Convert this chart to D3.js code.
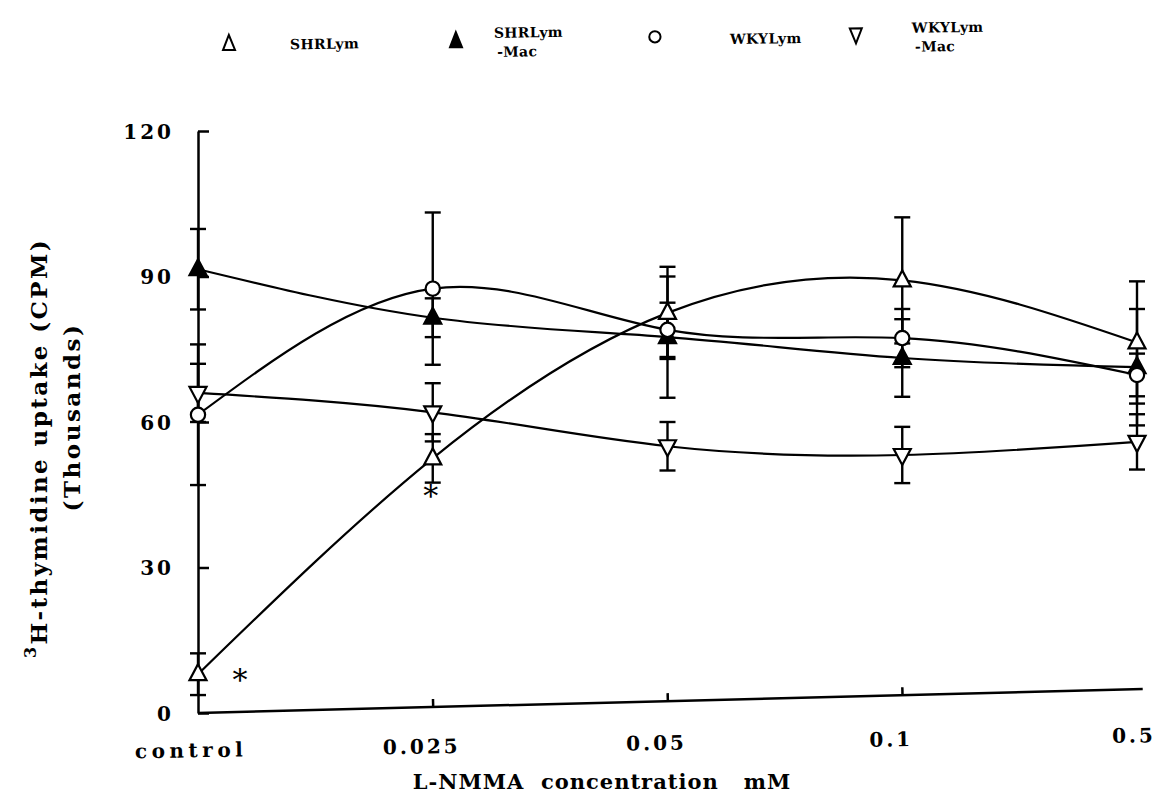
<!DOCTYPE html>
<html>
<head>
<meta charset="utf-8">
<script src="https://cdn.jsdelivr.net/npm/d3@7"></script>
<style>
  body { margin: 0; background: #fff; }
  svg { font-family: "DejaVu Serif", "Liberation Serif", serif; font-weight: bold; }
  .axis path, .axis line { stroke: #000; stroke-width: 2.5; }
  .axis text { font-family: "DejaVu Serif", "Liberation Serif", serif; font-size: 20px; letter-spacing: 3px; fill: #000; }
</style>
</head>
<body>
<svg id="chart" width="1167" height="799"></svg>
<script>
"use strict";

const categories = ["control", "0.025", "0.05", "0.1", "0.5"];
const yTicks = [0, 30, 60, 90, 120];

// means and error bars, thousands of CPM
const shrLym = [8, 52.5, 82.5, 89.2, 76.4];
const shrLymErr = [4.3, 5, 9.5, 13, 12.6];
const shrLymMac = [91.5, 81.5, 77.5, 73.2, 71.3];
const shrLymMacErr = [8.3, 4, 12.5, 8, 12];
const wkyLym = [61.5, 87.5, 79, 77.3, 69.7];
const wkyLymErr = [14.5, 15.7, 5.6, 6, 4.4];
const wkyLymMac = [66, 62, 55, 53.2, 55.9];
const wkyLymMacErr = [6, 6, 5, 5.8, 5.7];

const seriesNames = [["SHRLym"], ["SHRLym", "-Mac"], ["WKYLym"], ["WKYLym", "-Mac"]];

const svg = d3.select("#chart");

const x = d3.scalePoint().domain(categories).range([198, 1137]);
const y = d3.scaleLinear().domain([0, 120]).range([713, 131]);

const series = [
    {name: seriesNames[0], values: shrLym, err: shrLymErr, shape: "up", fill: "#fff"},
    {name: seriesNames[1], values: shrLymMac, err: shrLymMacErr, shape: "up", fill: "#000"},
    {name: seriesNames[2], values: wkyLym, err: wkyLymErr, shape: "circle", fill: "#fff"},
    {name: seriesNames[3], values: wkyLymMac, err: wkyLymMacErr, shape: "down", fill: "#fff"}
];

function symbolPath(shape) {
    if (shape === "circle") return d3.symbol(d3.symbolCircle, 160)();
    if (shape === "up") return "M0,-10L8.5,6L-8.5,6Z";
    return "M0,10L8.5,-6L-8.5,-6Z";
}

// x axis line and ticks, tilted as in the scan
const xAxis = svg.append("g")
    .attr("class", "axis axis-x")
    .attr("transform", `rotate(-1.45, ${x("control")}, ${y(0)}) translate(0,${y(0)})`)
    .call(d3.axisBottom(x).tickSizeInner(-8).tickSizeOuter(0).tickFormat(""));
xAxis.select(".domain").attr("d", `M${x("control")},0H${x("0.5") + 6}`);
xAxis.selectAll(".tick line")
    .attr("stroke-width", 2)
    .attr("opacity", d => (d === "control" || d === "0.5") ? 0 : 1);

// x tick labels, tilted a little less
const xLabels = svg.append("g")
    .attr("class", "axis axis-x-labels")
    .attr("transform", `rotate(-0.9, ${x("control")}, ${y(0)}) translate(0,${y(0)})`)
    .call(d3.axisBottom(x).tickSize(0).tickPadding(30));
xLabels.select(".domain").remove();
xLabels.selectAll(".tick text")
    .attr("dx", d => d === "0.5" ? -4 : (d === "control" ? -8 : -12))
    .style("letter-spacing", d => d === "control" ? "4.5px" : null);

// y axis
const yAxis = svg.append("g")
    .attr("class", "axis axis-y")
    .attr("transform", `translate(${x("control")},0)`)
    .call(d3.axisLeft(y).tickValues(yTicks).tickSizeInner(-11).tickSizeOuter(0).tickPadding(24));
yAxis.selectAll(".tick text").attr("dy", "0.35em");

// curves
const line = d3.line()
    .x((d, i) => x(categories[i]))
    .y(d => y(d))
    .curve(d3.curveNatural);

svg.append("g").selectAll("path")
    .data(series)
    .enter().append("path")
    .attr("d", d => line(d.values))
    .attr("fill", "none")
    .attr("stroke", "#000")
    .attr("stroke-width", 2.2);

// error bars
const bars = svg.append("g").attr("stroke", "#000").attr("stroke-width", 2.4);
series.forEach(s => {
    s.values.forEach((v, i) => {
        const cx = x(categories[i]);
        const g = bars.append("g");
        g.append("line").attr("x1", cx).attr("x2", cx).attr("y1", y(v - s.err[i])).attr("y2", y(v + s.err[i]));
        [v - s.err[i], v + s.err[i]].forEach(e => {
            g.append("line").attr("x1", cx - 8).attr("x2", cx + 8).attr("y1", y(e)).attr("y2", y(e));
        });
    });
});

// markers
series.forEach(s => {
    svg.append("g").selectAll("path")
        .data(s.values)
        .enter().append("path")
        .attr("transform", (d, i) => `translate(${x(categories[i])},${y(d)})`)
        .attr("d", symbolPath(s.shape))
        .attr("fill", s.fill)
        .attr("stroke", "#000")
        .attr("stroke-width", 2.2);
});

// significance marks
svg.append("text").attr("x", x("control") + 42).attr("y", y(shrLym[0]) + 16)
    .attr("text-anchor", "middle").attr("font-size", 30).attr("font-weight", "normal").text("*");
svg.append("text").attr("x", x("0.025") - 2).attr("y", y(shrLym[1] - 7) + 14)
    .attr("text-anchor", "middle").attr("font-size", 30).attr("font-weight", "normal").text("*");

// legend
const legendX = [229, 456, 655, 856];
const legendTextX = [290, 494, 730, 912];
const legend = svg.append("g").attr("transform", "rotate(-0.7, 229, 48)");
series.forEach((s, i) => {
    legend.append("path")
        .attr("d", s.shape === "circle" ? d3.symbol(d3.symbolCircle, 100)() :
            (s.shape === "up" ? "M0,-8L6,7L-6,7Z" : "M0,8L6,-7L-6,-7Z"))
        .attr("fill", s.fill).attr("stroke", "#000").attr("stroke-width", 2)
        .attr("transform", `translate(${legendX[i]},${s.shape === "circle" ? 42 : 43})`);
    const t = legend.append("text").attr("font-size", 14).attr("letter-spacing", 0.3)
        .attr("y", s.name.length > 1 ? 41 : 50);
    s.name.forEach((n, k) => {
        t.append("tspan").attr("x", legendTextX[i] + (k ? 3 : 0)).attr("dy", k ? 19 : 0).text(n);
    });
});

// axis titles
const yTitle = svg.append("text")
    .attr("transform", "translate(47,448) rotate(-90)")
    .attr("text-anchor", "middle").attr("font-size", 23).attr("letter-spacing", 2.4);
yTitle.append("tspan").attr("font-size", 16).attr("dy", -11).text("3");
yTitle.append("tspan").attr("dy", 11).text("H-thymidine  uptake  (CPM)");
svg.append("text")
    .attr("transform", "translate(80,417) rotate(-90)")
    .attr("text-anchor", "middle").attr("font-size", 23).attr("letter-spacing", 2.5)
    .text("(Thousands)");

svg.append("text")
    .attr("x", 602).attr("y", 789)
    .attr("text-anchor", "middle").attr("font-size", 21).attr("letter-spacing", 1)
    .attr("xml:space", "preserve")
    .text("L-NMMA  concentration   mM");
</script>
</body>
</html>
